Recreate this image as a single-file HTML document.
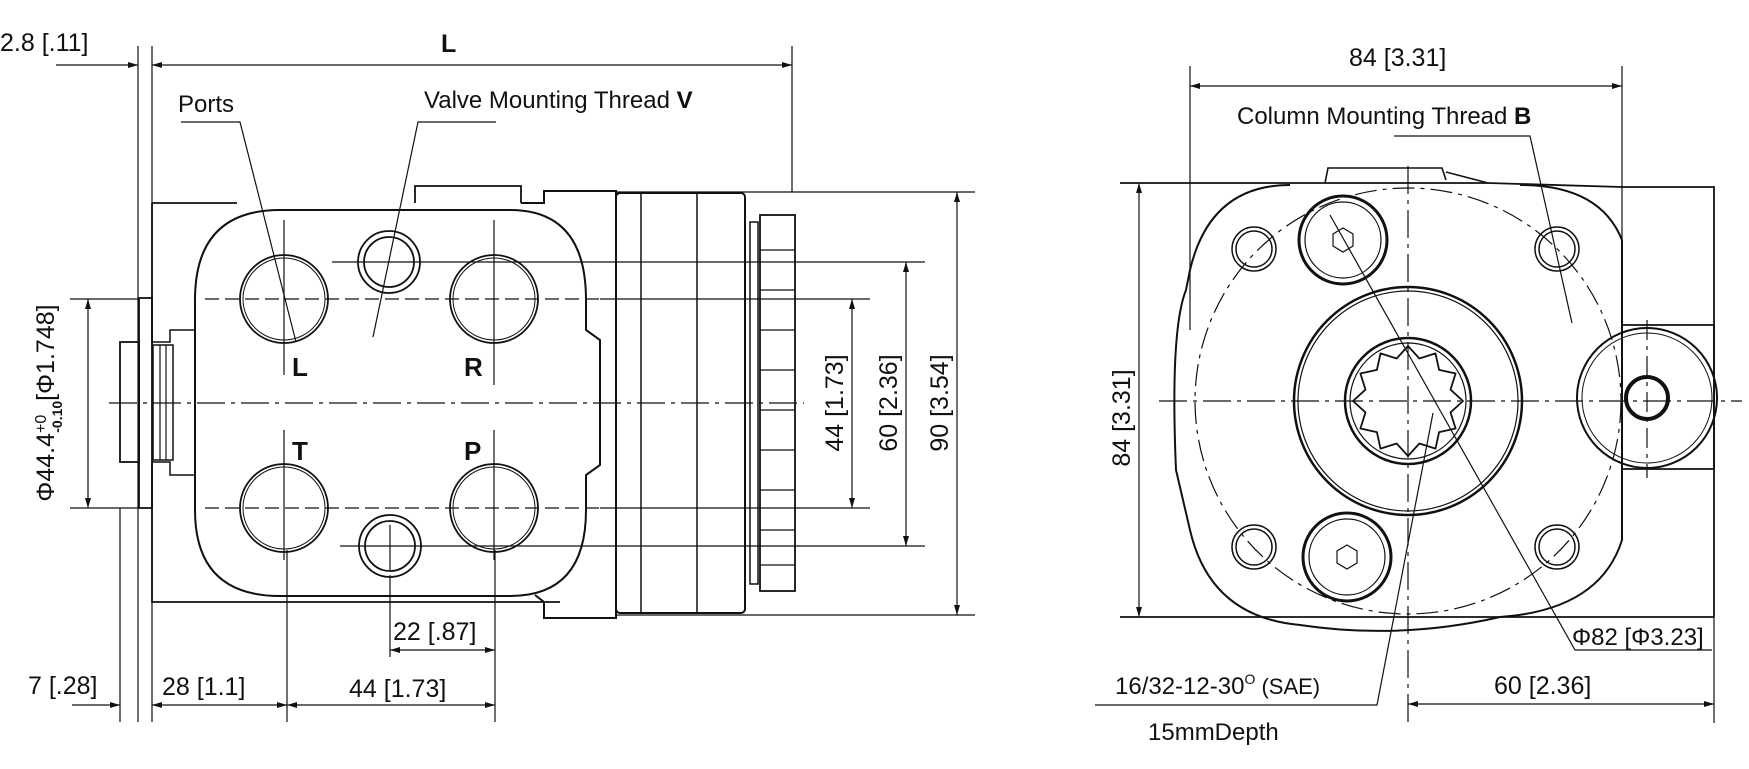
<!DOCTYPE html>
<html><head><meta charset="utf-8"><style>
html,body{margin:0;padding:0;background:#fff}
svg{display:block}
text{font-family:"Liberation Sans",sans-serif;fill:#111}
</style></head><body>
<svg width="1749" height="769" viewBox="0 0 1749 769" xmlns="http://www.w3.org/2000/svg">
<defs>
<marker id="a" viewBox="0 0 10 6" refX="10" refY="3" markerWidth="14" markerHeight="6" orient="auto-start-reverse" markerUnits="userSpaceOnUse"><path d="M0,0 L10,3 L0,6z" fill="#111"/></marker>
</defs>
<g fill="none" stroke="#111" stroke-width="1.2">
<line x1="138" y1="46" x2="138" y2="722"/>
<line x1="152" y1="46" x2="152" y2="722"/>
<line x1="120" y1="508" x2="120" y2="722"/>
<line x1="792" y1="46" x2="792" y2="192"/>
<line x1="287" y1="550" x2="287" y2="722"/>
<line x1="495" y1="550" x2="495" y2="722"/>
<line x1="390" y1="575" x2="390" y2="657"/>
<line x1="56" y1="65" x2="138" y2="65" marker-end="url(#a)"/>
<line x1="152" y1="65" x2="792" y2="65" marker-start="url(#a)" marker-end="url(#a)"/>
<path d="M152,203 L237,203 M152,203 L152,342 M152,462 L152,602 L560,602" stroke-width="1.8"/>
<path d="M415,203 L415,186 L521,186 L521,203" stroke-width="1.8"/>
<path d="M152,342 L170,342 L170,330 L195,330 M152,462 L170,462 L170,475 L195,475" stroke-width="1.5"/>
<path d="M280,210 L510,210 Q586,210 586,300 L586,330 L600,340 L600,465 L586,475 L586,510 Q586,596 510,596 L280,596 Q195,596 195,510 L195,475 L195,330 L195,300 Q195,210 280,210 Z" stroke-width="2"/>
<path d="M521,203 L544,203 L544,191 L616,191 L616,618 L544,618 L544,602 L535,595" stroke-width="2"/>
<rect x="616" y="193" width="129" height="420" rx="4" stroke-width="2"/>
<line x1="641" y1="193" x2="641" y2="613" stroke-width="1.5"/>
<line x1="697" y1="193" x2="697" y2="613" stroke-width="1.5"/>
<rect x="750" y="222" width="8" height="362" stroke-width="1.5"/>
<rect x="760" y="215" width="35" height="376" stroke-width="1.8"/>
<g stroke-width="1.2">
<line x1="760" y1="250" x2="795" y2="250"/><line x1="760" y1="290" x2="795" y2="290"/>
<line x1="760" y1="330" x2="795" y2="330"/><line x1="760" y1="370" x2="795" y2="370"/>
<line x1="760" y1="410" x2="795" y2="410"/><line x1="760" y1="450" x2="795" y2="450"/>
<line x1="760" y1="490" x2="795" y2="490"/><line x1="760" y1="530" x2="795" y2="530"/>
<line x1="760" y1="565" x2="795" y2="565"/>
</g>
<rect x="139" y="298" width="13" height="210" stroke-width="1.8"/>
<rect x="120" y="342" width="19" height="120" stroke-width="1.8"/>
<rect x="153" y="345" width="20" height="115" stroke-width="1.5"/>
<line x1="160" y1="345" x2="160" y2="460"/><line x1="166" y1="345" x2="166" y2="460"/>
<line x1="109" y1="403" x2="804" y2="403" stroke-dasharray="28,6,4,6"/>
<line x1="70" y1="299" x2="138" y2="299"/>
<line x1="70" y1="508" x2="138" y2="508"/>
<line x1="205" y1="299" x2="600" y2="299" stroke-dasharray="14,6"/>
<line x1="205" y1="508" x2="600" y2="508" stroke-dasharray="14,6"/>
<line x1="600" y1="299" x2="870" y2="299"/>
<line x1="600" y1="508" x2="870" y2="508"/>
<line x1="332" y1="262" x2="925" y2="262"/>
<line x1="340" y1="546" x2="925" y2="546"/>
<line x1="616" y1="192" x2="975" y2="192"/>
<line x1="616" y1="615" x2="975" y2="615"/>
<line x1="88" y1="299" x2="88" y2="508" marker-start="url(#a)" marker-end="url(#a)"/>
<line x1="852" y1="299" x2="852" y2="508" marker-start="url(#a)" marker-end="url(#a)"/>
<line x1="906" y1="262" x2="906" y2="546" marker-start="url(#a)" marker-end="url(#a)"/>
<line x1="957" y1="192" x2="957" y2="615" marker-start="url(#a)" marker-end="url(#a)"/>
<g stroke-width="1.8">
<circle cx="284" cy="299" r="44"/><circle cx="284" cy="299" r="41" stroke-width="1"/>
<circle cx="494" cy="299" r="44"/><circle cx="494" cy="299" r="41" stroke-width="1"/>
<circle cx="284" cy="508" r="44"/><circle cx="284" cy="508" r="41" stroke-width="1"/>
<circle cx="494" cy="508" r="44"/><circle cx="494" cy="508" r="41" stroke-width="1"/>
<circle cx="389" cy="262" r="31"/><circle cx="389" cy="262" r="25"/>
<circle cx="390" cy="546" r="31"/><circle cx="390" cy="546" r="25"/>
</g>
<line x1="284" y1="220" x2="284" y2="375"/><line x1="494" y1="220" x2="494" y2="385"/>
<line x1="284" y1="430" x2="284" y2="560"/><line x1="494" y1="430" x2="494" y2="560"/>
<line x1="390" y1="525" x2="390" y2="570"/>
<polyline points="181,122 240,122 296,342"/>
<polyline points="496,122 418,122 373,337"/>
<line x1="390" y1="650" x2="495" y2="650" marker-start="url(#a)" marker-end="url(#a)"/>
<line x1="72" y1="705" x2="120" y2="705" marker-end="url(#a)"/>
<line x1="152" y1="705" x2="287" y2="705" marker-start="url(#a)" marker-end="url(#a)"/>
<line x1="287" y1="705" x2="495" y2="705" marker-start="url(#a)" marker-end="url(#a)"/>

<line x1="1190" y1="66" x2="1190" y2="330"/>
<line x1="1622" y1="66" x2="1622" y2="330"/>
<line x1="1190" y1="86" x2="1622" y2="86" marker-start="url(#a)" marker-end="url(#a)"/>
<line x1="1120" y1="183" x2="1488" y2="183" stroke-width="1.8"/>
<line x1="1120" y1="617" x2="1714" y2="617" stroke-width="1.8"/>
<path d="M1488,183 L1622,187 L1714,187 L1714,617" stroke-width="1.8"/>
<path d="M1622,325 L1714,325 L1714,469 L1622,469" stroke-width="1.8"/>
<path d="M1325,183 L1328,168 L1442,168 L1446,180 M1446,172 L1488,183" stroke-width="1.6"/>
<path d="M1290,185 Q1210,185 1190,270 L1186,290 Q1170,330 1176,470 L1190,530 Q1210,617 1300,625 Q1400,640 1500,617 Q1600,610 1622,540 L1622,240 Q1600,185 1520,185" stroke-width="2"/>
<line x1="1139" y1="183" x2="1139" y2="617" marker-start="url(#a)" marker-end="url(#a)"/>
<circle cx="1408" cy="401" r="213" stroke-dasharray="22,6,4,6"/>
<line x1="1159" y1="401" x2="1742" y2="401" stroke-dasharray="28,6,4,6"/>
<line x1="1408" y1="166" x2="1408" y2="723" stroke-dasharray="28,6,4,6"/>
<line x1="1647" y1="320" x2="1647" y2="478" stroke-dasharray="20,6,4,6"/>
<circle cx="1408" cy="401" r="114" stroke-width="2.5"/>
<circle cx="1408" cy="401" r="110" stroke-width="1.2"/>
<circle cx="1408" cy="401" r="63" stroke-width="2.5"/>
<circle cx="1408" cy="401" r="58" stroke-width="1.2"/>
<polygon points="1463,401 1450.5,412.4 1455.6,428.5 1439.1,432.1 1435.5,448.6 1419.4,443.5 1408,456 1396.6,443.5 1380.5,448.6 1376.9,432.1 1360.4,428.5 1365.5,412.4 1353,401 1365.5,389.6 1360.4,373.5 1376.9,369.9 1380.5,353.4 1396.6,358.5 1408,346 1419.4,358.5 1435.5,353.4 1439.1,369.9 1455.6,373.5 1450.5,389.6" stroke-width="1.8" stroke-linejoin="round"/>
<circle cx="1343" cy="240" r="44" stroke-width="3"/><circle cx="1343" cy="240" r="38" stroke-width="1.2"/>
<path d="M1343,228 l10,6 l0,12 l-10,6 l-10,-6 l0,-12z"/>
<circle cx="1347" cy="557" r="44" stroke-width="3"/><circle cx="1347" cy="557" r="38" stroke-width="1.2"/>
<path d="M1347,545 l10,6 l0,12 l-10,6 l-10,-6 l0,-12z"/>
<g stroke-width="1.5">
<circle cx="1254" cy="249" r="22"/><circle cx="1254" cy="249" r="18"/>
<circle cx="1557" cy="249" r="22"/><circle cx="1557" cy="249" r="18"/>
<circle cx="1254" cy="547" r="22"/><circle cx="1254" cy="547" r="18"/>
<circle cx="1557" cy="547" r="22"/><circle cx="1557" cy="547" r="18"/>
</g>
<circle cx="1647" cy="398" r="70" stroke-width="2"/>
<circle cx="1647" cy="398" r="65" stroke-width="1"/>
<circle cx="1647" cy="398" r="21" stroke-width="4"/>
<polyline points="1394,136 1530,136 1572,323"/>
<polyline points="1330,215 1575,650 1712,650"/>
<polyline points="1095,705 1377,705 1433,413"/>
<line x1="1714" y1="617" x2="1714" y2="723"/>
<line x1="1408" y1="704" x2="1714" y2="704" marker-start="url(#a)" marker-end="url(#a)"/>
</g>

<g font-size="25">
<text x="0" y="51">2.8 [.11]</text>
<text x="441" y="52" font-weight="bold">L</text>
<text x="178" y="112" font-size="24">Ports</text>
<text x="424" y="108" font-size="24">Valve Mounting Thread <tspan font-weight="bold">V</tspan></text>
<text x="292" y="376" font-weight="bold" font-size="26">L</text>
<text x="464" y="376" font-weight="bold" font-size="26">R</text>
<text x="292" y="460" font-weight="bold" font-size="26">T</text>
<text x="464" y="460" font-weight="bold" font-size="26">P</text>
<text x="393" y="640">22 [.87]</text>
<text x="349" y="697">44 [1.73]</text>
<text x="162" y="695">28 [1.1]</text>
<text x="28" y="694">7 [.28]</text>
<text transform="translate(54,403) rotate(-90)" text-anchor="middle">Φ44.4<tspan font-size="16" dy="-8">+0</tspan><tspan font-size="14" font-weight="bold" dx="-18" dy="16">-0.10</tspan><tspan dy="-8">[Φ1.748]</tspan></text>
<text transform="translate(843,403) rotate(-90)" text-anchor="middle">44 [1.73]</text>
<text transform="translate(897,403) rotate(-90)" text-anchor="middle">60 [2.36]</text>
<text transform="translate(948,403) rotate(-90)" text-anchor="middle">90 [3.54]</text>
<text x="1349" y="66">84 [3.31]</text>
<text x="1237" y="124" font-size="24">Column Mounting Thread <tspan font-weight="bold">B</tspan></text>
<text transform="translate(1130,418) rotate(-90)" text-anchor="middle">84 [3.31]</text>
<text x="1572" y="645" font-size="24">Φ82 [Φ3.23]</text>
<text x="1494" y="694">60 [2.36]</text>
<text x="1115" y="694" font-size="24">16/32-12-30<tspan font-size="14" dy="-10">O</tspan><tspan dy="10" font-size="22"> (SAE)</tspan></text>
<text x="1148" y="740" font-size="24">15mmDepth</text>
</g>
</svg>
</body></html>
